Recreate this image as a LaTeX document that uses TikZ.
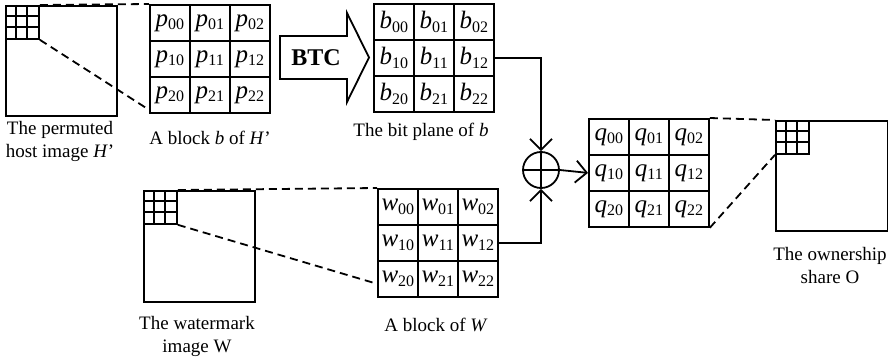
\documentclass[tikz,border=0pt]{standalone}
\usepackage{fontspec}
\setmainfont{Liberation Serif}
\usetikzlibrary{arrows.meta}

% cell entry: italic letter with an upright two-digit index
\newcommand\cv[2]{{\itshape #1}\raisebox{-0.3ex}{\fontsize{16}{16}\selectfont #2}}

\tikzset{
  line/.style={line width=1.8pt},
  cellbox/.style={draw, line width=1.8pt, minimum width=40pt, minimum height=36pt,
    inner sep=0pt, anchor=north west, font=\fontsize{25}{25}\selectfont},
  zoomline/.style={line width=1.8pt, dash pattern=on 8pt off 5pt},
  flow/.style={line width=1.8pt, -{Straight Barb[length=11pt,width=22pt,line width=1.8pt]}},
  caption/.style={font=\fontsize{19}{23}\selectfont, align=center, inner sep=0pt},
  imagebox/.style={draw, line width=1.8pt, inner sep=0pt, anchor=north west},
}

% 3x3 block of named cells: name prefix, letter, top-left x, top-left y
\newcommand\pixblock[4]{%
  \foreach \row in {0,1,2}{\foreach \col in {0,1,2}{
    \node[cellbox] (#1\row\col) at ({#3+40*\col},{#4+36*\row}) {\cv{#2}{\row\col}};
  }}}

% image square with a small 3x3 grid in its top-left corner
\newcommand\thumb[5]{% name, x, y, width, height
  \node[imagebox, minimum width=#4pt, minimum height=#5pt] (#1) at (#2,#3) {};
  \node[imagebox, minimum width=33pt, minimum height=33pt] (#1g) at (#2,#3) {};
  \foreach \k in {1,2}{
    \draw[line] ({#2+11*\k},#3) -- ({#2+11*\k},{#3+33});
    \draw[line] (#2,{#3+11*\k}) -- ({#2+33},{#3+11*\k});
  }}

\begin{document}
\begin{tikzpicture}[x=1pt, y=-1pt]
\useasboundingbox (0,0) rectangle (888,361);

% host image and one of its blocks
\thumb{host}{5}{5}{111}{110}
\pixblock{p}{p}{149}{4}
\draw[zoomline] (hostg.north east) -- (p00.north west);
\draw[zoomline] (hostg.south east) -- ([yshift=4pt]p20.south west);
\node[caption] (hostcap) at (60,141) {The permuted\\host image \textit{H}’};
\node[caption] (pcap) at (210,138) {A block \textit{b} of \textit{H}’};

% BTC step
\draw[line] (280,36) -- (347,36) -- (347,13) -- (369,57.5) -- (347,102) -- (347,79)
  -- (280,79) -- cycle;
\node[font=\fontsize{24}{24}\selectfont\bfseries] (btc) at (316,57.5) {BTC};

% bit plane
\pixblock{b}{b}{373}{3}
\node[caption] (bcap) at (421,132) {The bit plane of \textit{b}};

% watermark image and one of its blocks
\thumb{wm}{143}{190}{111}{111}
\pixblock{w}{w}{377}{188}
\draw[zoomline] (wmg.north east) -- (w00.north west);
\draw[zoomline] (wmg.south east) -- ([yshift=14pt]w20.south west);
\node[caption] (wmcap) at (197,336) {The watermark\\image W};
\node[caption] (wcap) at (436,325) {A block of \textit{W}};

% exclusive-or
\node[draw, circle, line width=1.8pt, minimum size=36pt, inner sep=0pt] (xor) at (541,170) {};
\draw[line] (xor.north) -- (xor.south);
\draw[line] (xor.west) -- (xor.east);
\draw[flow] (b12.east) -| (xor.north);
\draw[flow] (w12.east) -| (xor.south);

% ownership share
\pixblock{q}{q}{588}{118}
\draw[flow] (xor.east) -- (q10.west);
\thumb{own}{775}{120}{112}{110}
\draw[zoomline] (q02.north east) -- (owng.north west);
\draw[zoomline] (q22.south east) -- (owng.south west);
\node[caption] (owncap) at (830,265) {The ownership\\share O};
\end{tikzpicture}
\end{document}
